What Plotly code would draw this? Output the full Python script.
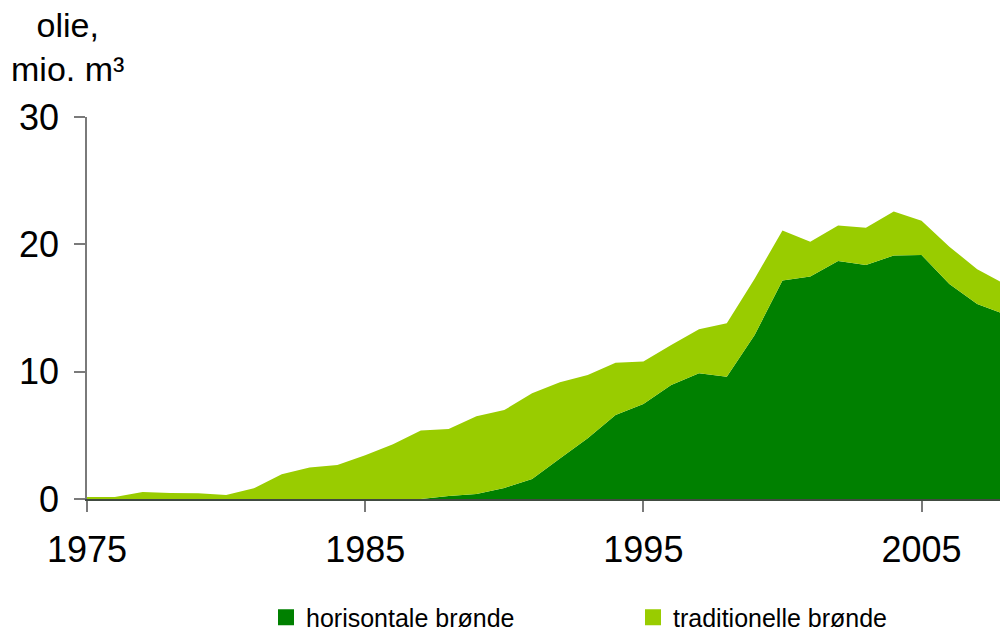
import plotly.graph_objects as go

years = list(range(1975, 2009))
horisontale = [0, 0, 0, 0, 0, 0, 0, 0, 0, 0, 0, 0, 0,
               0.24, 0.40, 0.87, 1.57, 3.19, 4.77, 6.60, 7.46, 8.96, 9.87, 9.61,
               12.88, 17.15, 17.47, 18.70, 18.38, 19.12, 19.17, 16.89, 15.32, 14.49]
traditionelle = [0.16, 0.16, 0.55, 0.47, 0.45, 0.31, 0.84, 1.94, 2.47, 2.67, 3.43, 4.30, 5.37,
                 5.26, 6.10, 6.11, 6.73, 5.98, 4.97, 4.11, 3.33, 3.14, 3.46, 4.19,
                 4.42, 3.93, 2.73, 2.77, 2.92, 3.45, 2.69, 2.93, 2.72, 2.37]
series_names = ["horisontale brønde", "traditionelle brønde"]
x_ticks = [1975, 1985, 1995, 2005]
y_ticks = [0, 10, 20, 30]

dark = "#008000"
light = "#99CC00"
font_family = "Liberation Sans, Arial, sans-serif"

W, H = 1000, 629

fig = go.Figure()
fig.add_trace(go.Scatter(x=years, y=horisontale, stackgroup="a", mode="none",
                         fillcolor=dark, showlegend=False, name=series_names[0]))
fig.add_trace(go.Scatter(x=years, y=traditionelle, stackgroup="a", mode="none",
                         fillcolor=light, showlegend=False, name=series_names[1]))
# legend entries
for name, col in zip(series_names, [dark, light]):
    fig.add_trace(go.Scatter(x=[None], y=[None], mode="markers", name=name,
                             marker=dict(symbol="square", size=16, color=col)))

axis_col = "#7a7a7a"
fig.update_layout(
    width=W, height=H,
    margin=dict(l=87, r=0, t=117, b=130),
    paper_bgcolor="white", plot_bgcolor="white",
    font=dict(family=font_family, color="black"),
    xaxis=dict(range=[1975, 2007.82], tickvals=x_ticks, ticks="outside", ticklen=11,
               tickwidth=1.5, tickcolor=axis_col, showline=True, linecolor="#404a40",
               linewidth=1.5, showgrid=False, zeroline=False,
               tickfont=dict(size=36, family=font_family), ticklabelstandoff=7),
    yaxis=dict(range=[0, 30], tickvals=y_ticks, ticks="outside", ticklen=11,
               tickwidth=1.5, tickcolor=axis_col, showline=True, linecolor=axis_col,
               linewidth=1.5, showgrid=False, zeroline=False,
               tickfont=dict(size=36, family=font_family), ticklabelstandoff=8),
    legend=dict(orientation="h", xref="container", yref="container",
                x=266 / W, y=(H - 617.5) / H, xanchor="left", yanchor="middle",
                traceorder="normal",
                font=dict(size=25, family=font_family), entrywidth=322,
                itemsizing="trace", bgcolor="rgba(0,0,0,0)"),
    annotations=[dict(text="olie,<br>mio. m³", xref="paper", yref="paper",
                      x=(67.5 - 87) / 913, y=1 + (117 - 4) / 382,
                      xanchor="center", yanchor="top", showarrow=False,
                      align="center", font=dict(size=34, family=font_family))],
)

fig.write_html("out.html", config={"displayModeBar": False},
               post_script="document.body.style.margin='0';document.body.style.overflow='hidden';")
